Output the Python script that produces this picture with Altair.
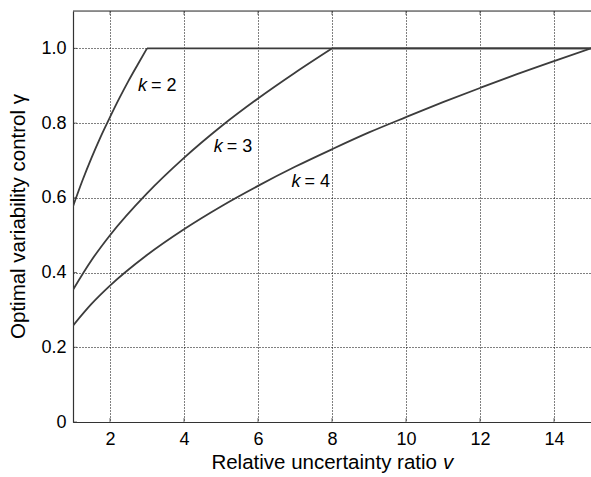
import altair as alt
import pandas as pd

# Values
v_k2 = [1, 1.25, 1.5, 1.75, 2, 2.25, 2.5, 2.75, 3, 15]
g_k2 = [0.577, 0.645, 0.707, 0.764, 0.816, 0.866, 0.913, 0.957, 1.0, 1.0]

v_k3 = [1, 1.5, 2, 3, 4, 5, 6, 7, 8, 15]
g_k3 = [0.354, 0.433, 0.5, 0.612, 0.707, 0.791, 0.866, 0.935, 1.0, 1.0]

v_k4 = [1, 1.5, 2, 3, 4, 5, 6, 7, 8, 9, 10, 11, 12, 13, 14, 15]
g_k4 = [0.258, 0.316, 0.365, 0.447, 0.516, 0.577, 0.632, 0.683, 0.730,
        0.775, 0.816, 0.856, 0.894, 0.931, 0.966, 1.0]

x_ticks = [2, 4, 6, 8, 10, 12, 14]
y_ticks = [0, 0.2, 0.4, 0.6, 0.8, 1.0]

label_k = ["2", "3", "4"]
label_v = [3.0, 5.05, 7.15]
label_g = [0.898, 0.735, 0.643]

W, H = 518, 411
LINE = "#3c3c3c"
FONT = "Liberation Sans"

rows = []
for k, vs, gs in [("2", v_k2, g_k2), ("3", v_k3, g_k3), ("4", v_k4, g_k4)]:
    reach = gs.index(1.0)
    for i, (v, g) in enumerate(zip(vs, gs)):
        if i <= reach:
            rows.append({"k": k, "seg": k + "c", "v": v, "g": g})
        if i >= reach:
            rows.append({"k": k, "seg": k + "f", "v": v, "g": g})
df = pd.DataFrame(rows)

lab = pd.DataFrame({"k": label_k, "v": label_v, "g": label_g,
                    "eq": ["= " + s for s in label_k]})

xs = alt.Scale(domain=[1, 15], nice=False, zero=False)
ys = alt.Scale(domain=[0, 1.1], nice=False, zero=False)

base = alt.Chart(df)

lines = base.mark_line(interpolate="monotone", color=LINE, strokeWidth=1.8, clip=True).encode(
    x=alt.X("v:Q", scale=xs, axis=alt.Axis(
        values=x_ticks, title=None, grid=True, gridDash=[1, 2], gridColor="#000",
        gridWidth=1, ticks=False, labelFontSize=18, labelFont=FONT, labelColor="#000",
        labelPadding=8, domainColor="#333", domainWidth=1.2)),
    y=alt.Y("g:Q", scale=ys, axis=alt.Axis(
        values=y_ticks, title="Optimal variability control γ", grid=True,
        gridDash=[1, 2], gridColor="#000", gridWidth=1, ticks=False,
        labelFontSize=18, labelFont=FONT, labelColor="#000", labelPadding=7,
        labelExpr="datum.value == 0 ? '0' : format(datum.value, '.1f')",
        domainColor="#333", domainWidth=1.2,
        titleFont=FONT, titleFontSize=20.5, titleFontWeight="normal", titleColor="#000",
        titleAngle=270, titleX=-55, titleY=205, titleAlign="center", titleBaseline="middle")),
    detail="seg:N",
)

k_text = alt.Chart(lab).mark_text(font=FONT, fontSize=18, fontStyle="italic",
                                  align="right", baseline="middle", color="#000").encode(
    x=alt.X("v:Q", scale=xs), y=alt.Y("g:Q", scale=ys), text=alt.value("k"))
eq_text = alt.Chart(lab).mark_text(font=FONT, fontSize=18, align="left", baseline="middle",
                                   dx=4, color="#000").encode(
    x=alt.X("v:Q", scale=xs), y=alt.Y("g:Q", scale=ys), text="eq:N")

xt = pd.DataFrame({"t": x_ticks})
yt = pd.DataFrame({"t": y_ticks})
one = pd.DataFrame({"t": [0]})

xtick_b = alt.Chart(xt).mark_tick(orient="vertical", size=4, yOffset=-2, color="#333",
                                  thickness=1).encode(
    x=alt.X("t:Q", scale=xs), y=alt.value(H))
xtick_t = alt.Chart(xt).mark_tick(orient="vertical", size=4, yOffset=2, color="#333",
                                  thickness=1).encode(
    x=alt.X("t:Q", scale=xs), y=alt.value(0))
ytick_l = alt.Chart(yt).mark_tick(orient="horizontal", size=4, xOffset=2, color="#333",
                                  thickness=1).encode(
    y=alt.Y("t:Q", scale=ys), x=alt.value(0))

top_line = alt.Chart(one).mark_rule(color="#333", strokeWidth=1.2).encode(
    x=alt.value(0), x2=alt.value(W), y=alt.value(0))

title_main = alt.Chart(one).mark_text(font=FONT, fontSize=20.5, align="right",
                                      baseline="middle", color="#000").encode(
    x=alt.value(364), y=alt.value(452), text=alt.value("Relative uncertainty ratio"))
title_v = alt.Chart(one).mark_text(font=FONT, fontSize=20.5, align="left", fontStyle="italic",
                                   baseline="middle", color="#000").encode(
    x=alt.value(370), y=alt.value(452), text=alt.value("v"))

chart = alt.layer(lines, xtick_b, xtick_t, ytick_l, top_line, k_text, eq_text,
                  title_main, title_v).properties(
    width=W, height=H,
    autosize=alt.AutoSizeParams(type="none"),
    padding={"left": 73, "top": 11, "right": 0, "bottom": 55},
).configure_view(stroke=None).configure(background="white")

chart.save("out.html", embed_options={"renderer": "svg", "actions": False})
